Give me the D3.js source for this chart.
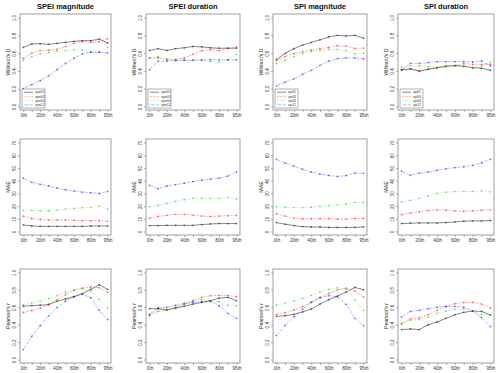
<!DOCTYPE html>
<html>
<head>
<meta charset="utf-8">
<script src="https://cdn.jsdelivr.net/npm/d3@7/dist/d3.min.js"></script>
<style>
  body { margin: 0; background: #fff; }
  svg { font-family: "Liberation Sans", Arial, Helvetica, sans-serif; }
</style>
</head>
<body>
<svg id="chart" width="500" height="373"></svg>
<script>
// percentiles on the x axis (only every other one gets a label)
var percentiles = ["0th","10th","20th","30th","40th","50th","60th","70th","80th","90th","95th"];
var titles = ["SPEI magnitude", "SPEI duration", "SPI magnitude", "SPI duration"];
var yLabels = ["Willmott's D", "MAE", "Pearson's r"];
var speiNames = ["spei01","spei03","spei06","spei12"];
var spiNames = ["spi01","spi03","spi06","spi12"];
var ticksUnit = [0, 0.2, 0.4, 0.6, 0.8, 1.0];
var ticksMae = [0, 10, 20, 30, 40, 50, 60, 70];

// Willmott's D  (series order: 01 black, 03 red, 06 green, 12 blue)
var dSpeiMag = [
  [0.665,0.703,0.706,0.699,0.710,0.721,0.732,0.740,0.740,0.758,0.714],
  [0.543,0.599,0.628,0.632,0.643,0.673,0.710,0.729,0.721,0.729,0.762],
  [0.517,0.561,0.591,0.606,0.621,0.628,0.639,0.636,0.610,0.610,0.665],
  [0.200,0.245,0.290,0.346,0.413,0.483,0.543,0.591,0.610,0.610,0.602]];
var dSpeiDur = [
  [0.630,0.650,0.630,0.650,0.660,0.675,0.670,0.660,0.655,0.655,0.655],
  [0.545,0.545,0.526,0.526,0.545,0.586,0.627,0.638,0.627,0.653,0.670],
  [0.545,0.560,0.534,0.526,0.520,0.520,0.520,0.504,0.496,0.522,0.586],
  [0.414,0.510,0.510,0.515,0.520,0.520,0.522,0.526,0.522,0.526,0.526]];
var dSpiMag = [
  [0.528,0.598,0.650,0.690,0.720,0.749,0.782,0.800,0.793,0.800,0.768],
  [0.517,0.561,0.594,0.616,0.635,0.650,0.664,0.683,0.679,0.653,0.657],
  [0.483,0.520,0.561,0.594,0.616,0.631,0.642,0.642,0.627,0.590,0.600],
  [0.232,0.273,0.310,0.362,0.406,0.461,0.509,0.539,0.546,0.546,0.535]];
var dSpiDur = [
  [0.411,0.422,0.396,0.419,0.437,0.452,0.459,0.452,0.437,0.430,0.407],
  [0.415,0.422,0.404,0.415,0.430,0.452,0.463,0.481,0.474,0.474,0.474],
  [0.440,0.459,0.456,0.448,0.440,0.448,0.456,0.448,0.426,0.456,0.496],
  [0.411,0.485,0.485,0.493,0.504,0.504,0.504,0.504,0.500,0.511,0.459]];

// MAE
var maeSpeiMag = [
  [5.1,4.3,4.0,4.0,4.0,4.0,4.0,4.0,4.3,4.3,4.3],
  [12.0,10.2,9.4,9.1,9.1,9.1,8.8,8.5,8.5,8.5,8.0],
  [16.6,16.6,16.3,16.3,16.8,17.6,18.2,18.7,19.0,19.8,17.6],
  [41.9,38.7,37.1,35.8,34.2,32.9,31.8,31.0,30.5,29.9,31.5]];
var maeSpeiDur = [
  [4.6,4.6,4.8,4.8,4.8,4.8,5.4,5.9,6.2,6.2,6.2],
  [10.5,11.8,12.7,13.5,13.5,12.9,12.1,11.8,12.1,12.4,12.7],
  [19.4,20.5,22.1,23.7,25.0,26.1,26.1,26.1,26.1,26.7,25.6],
  [36.3,33.7,35.8,36.9,38.0,39.3,40.4,41.2,42.0,43.6,46.8]];
var maeSpiMag = [
  [7.0,5.7,4.6,3.8,3.5,3.5,3.2,3.2,3.2,3.2,3.5],
  [14.0,12.1,10.5,10.0,10.0,10.0,10.0,9.7,9.7,10.2,10.2],
  [19.4,19.1,18.8,18.8,19.1,19.7,20.2,21.0,21.5,22.9,22.9],
  [56.8,53.8,51.4,49.0,46.8,45.2,44.1,43.3,43.9,46.0,45.8]];
var maeSpiDur = [
  [6.2,6.5,6.7,6.7,6.7,7.0,7.5,8.1,8.3,8.3,8.6],
  [13.2,14.5,15.6,16.4,17.0,16.7,16.2,15.9,16.2,16.7,17.0],
  [23.2,24.5,26.1,28.0,29.9,31.0,31.5,31.5,31.5,32.0,31.2],
  [47.4,44.2,46.0,46.8,48.2,49.3,50.3,50.9,52.0,54.1,56.8]];

// Pearson's r
var rSpeiMag = [
  [0.612,0.620,0.624,0.631,0.669,0.696,0.722,0.757,0.806,0.859,0.806],
  [0.540,0.563,0.589,0.635,0.688,0.745,0.795,0.821,0.833,0.825,0.772],
  [0.627,0.650,0.669,0.700,0.734,0.776,0.802,0.814,0.787,0.692,0.589],
  [0.114,0.266,0.388,0.502,0.597,0.669,0.722,0.749,0.711,0.567,0.460]];
var rSpeiDur = [
  [0.584,0.584,0.569,0.592,0.611,0.637,0.656,0.676,0.706,0.714,0.676],
  [0.504,0.553,0.569,0.599,0.634,0.679,0.714,0.733,0.737,0.737,0.721],
  [0.515,0.588,0.569,0.584,0.634,0.668,0.687,0.676,0.664,0.622,0.618],
  [0.519,0.592,0.599,0.622,0.645,0.656,0.664,0.668,0.618,0.531,0.473]];
var rSpiMag = [
  [0.496,0.504,0.519,0.546,0.580,0.637,0.687,0.729,0.775,0.828,0.802],
  [0.519,0.538,0.569,0.607,0.660,0.714,0.760,0.798,0.821,0.786,0.718],
  [0.626,0.649,0.672,0.702,0.737,0.775,0.805,0.824,0.805,0.687,0.565],
  [0.275,0.393,0.492,0.580,0.656,0.710,0.733,0.721,0.634,0.473,0.389]];
var rSpiDur = [
  [0.344,0.351,0.344,0.400,0.431,0.473,0.515,0.542,0.557,0.553,0.511],
  [0.416,0.466,0.481,0.515,0.565,0.607,0.641,0.656,0.656,0.637,0.592],
  [0.408,0.450,0.462,0.485,0.531,0.557,0.580,0.580,0.557,0.515,0.511],
  [0.489,0.553,0.565,0.584,0.599,0.611,0.611,0.599,0.557,0.481,0.378]];

var rows = [
  [dSpeiMag, dSpeiDur, dSpiMag, dSpiDur],
  [maeSpeiMag, maeSpeiDur, maeSpiMag, maeSpiDur],
  [rSpeiMag, rSpeiDur, rSpiMag, rSpiDur]
];

// layout of the plot boxes (pixels)
var colX = [[20,111],[146,240],[273,367],[398,494]];
var rowY = [[14,110],[139,235],[269,363]];

var colors = ["#000000", "#ff0000", "#00cd00", "#0000ff"];
var dashes = [null, "2.2,1.2", "0.7,0.9", "0.7,0.9,2.2,0.9"];

var svg = d3.select("#chart");

rows.forEach(function(rowData, ri) {
  rowData.forEach(function(panelData, ci) {
    var x0 = colX[ci][0], x1 = colX[ci][1];
    var y0 = rowY[ri][0], y1 = rowY[ri][1];
    var isMae = (ri === 1);
    var yTicks = isMae ? ticksMae : ticksUnit;
    var yMax = isMae ? 70 : 1;

    var xScale = d3.scaleLinear().domain([-0.4, percentiles.length - 1 + 0.4]).range([x0, x1]);
    var yScale = d3.scaleLinear().domain([-0.04 * yMax, 1.04 * yMax]).range([y1, y0]);

    var g = svg.append("g");

    // box
    g.append("rect")
      .attr("x", x0).attr("y", y0)
      .attr("width", x1 - x0).attr("height", y1 - y0)
      .attr("fill", "none").attr("stroke", "#777").attr("stroke-width", 0.7);

    // x axis
    var xAxis = d3.axisBottom(xScale)
      .tickValues(d3.range(percentiles.length))
      .tickSize(2).tickPadding(1.5)
      .tickFormat(function(i) { return i % 2 === 0 ? percentiles[i] : ""; });
    var gx = g.append("g").attr("transform", "translate(0," + y1 + ")").call(xAxis);
    gx.select(".domain").remove();
    gx.selectAll("line").attr("stroke", "#666").attr("stroke-width", 0.5);
    gx.selectAll("text").attr("font-size", 4.6).attr("fill", "#333");

    // y axis, labels rotated like base R
    var yAxis = d3.axisLeft(yScale).tickValues(yTicks).tickSize(2)
      .tickFormat(isMae ? d3.format("d") : d3.format(".1f"));
    var gy = g.append("g").attr("transform", "translate(" + x0 + ",0)").call(yAxis);
    gy.select(".domain").remove();
    gy.selectAll("line").attr("stroke", "#666").attr("stroke-width", 0.5);
    gy.selectAll("text")
      .attr("font-size", 4.6).attr("fill", "#333")
      .attr("x", null).attr("dy", null)
      .attr("text-anchor", "middle")
      .attr("transform", "translate(-4,0) rotate(-90)");

    // y title
    g.append("text")
      .attr("transform", "translate(" + (x0 - 10) + "," + ((y0 + y1) / 2) + ") rotate(-90)")
      .attr("text-anchor", "middle")
      .attr("font-size", 5.2).attr("fill", "#222")
      .text(yLabels[ri]);

    // panel title
    if (ri === 0) {
      g.append("text")
        .attr("x", (x0 + x1) / 2).attr("y", 9)
        .attr("text-anchor", "middle")
        .attr("font-size", 7.5).attr("font-weight", "bold").attr("fill", "#111")
        .text(titles[ci]);
    }

    var line = d3.line()
      .x(function(d, i) { return xScale(i); })
      .y(function(d) { return yScale(d); });

    panelData.forEach(function(series, si) {
      g.append("path")
        .datum(series)
        .attr("d", line)
        .attr("fill", "none")
        .attr("stroke", colors[si])
        .attr("stroke-width", 0.6)
        .attr("stroke-opacity", si === 0 ? 0.8 : 0.55)
        .attr("stroke-dasharray", dashes[si]);

      g.selectAll(null)
        .data(series)
        .enter().append("circle")
        .attr("cx", function(d, i) { return xScale(i); })
        .attr("cy", function(d) { return yScale(d); })
        .attr("r", 0.9)
        .attr("fill", colors[si])
        .attr("fill-opacity", 0.55);
    });

    // legend on the top row
    if (ri === 0) {
      var names = ci < 2 ? speiNames : spiNames;
      var lx = x0 + 2, ly = y1 - 21, lw = 23, lh = 19;
      var leg = g.append("g");
      leg.append("rect")
        .attr("x", lx).attr("y", ly).attr("width", lw).attr("height", lh)
        .attr("fill", "#fff").attr("stroke", "#666").attr("stroke-width", 0.5);
      names.forEach(function(n, k) {
        var yy = ly + 3.2 + k * 4.2;
        leg.append("line")
          .attr("x1", lx + 2).attr("x2", lx + 11)
          .attr("y1", yy).attr("y2", yy)
          .attr("stroke", colors[k]).attr("stroke-width", 0.6)
          .attr("stroke-opacity", k === 0 ? 0.8 : 0.55)
          .attr("stroke-dasharray", dashes[k]);
        leg.append("text")
          .attr("x", lx + 13).attr("y", yy + 1.2)
          .attr("font-size", 3.3).attr("fill", "#333")
          .text(n);
      });
    }
  });
});
</script>
</body>
</html>
